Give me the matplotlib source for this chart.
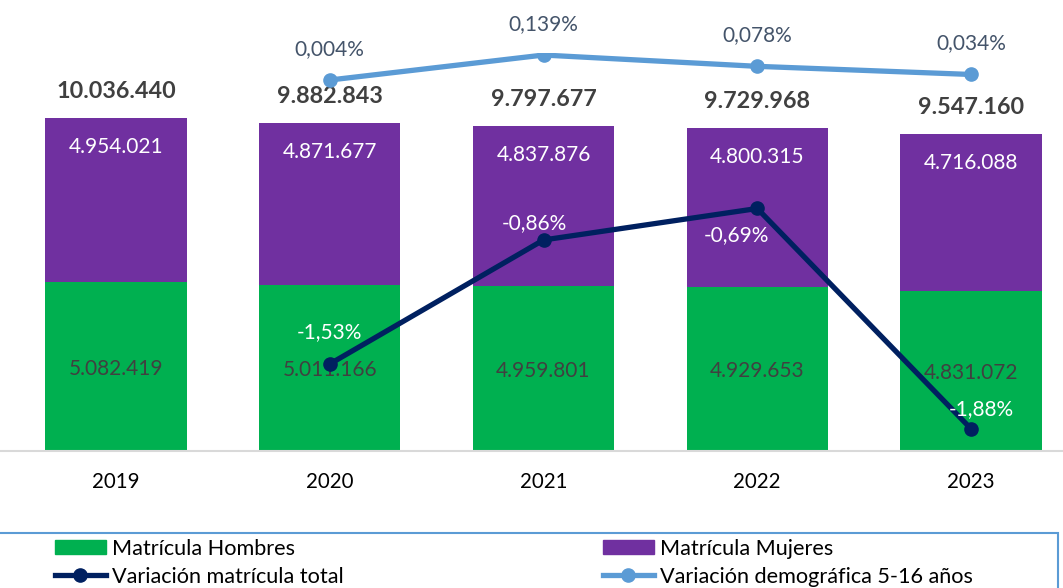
import matplotlib.pyplot as plt
from matplotlib.patches import Rectangle
from matplotlib.lines import Line2D
from matplotlib.patches import Patch

plt.rcParams['font.family'] = ['Lato', 'DejaVu Sans']

years = ['2019', '2020', '2021', '2022', '2023']
hombres = [5082419, 5011166, 4959801, 4929653, 4831072]
mujeres = [4954021, 4871677, 4837876, 4800315, 4716088]
var_total = [-1.53, -0.86, -0.69, -1.88]          # 2020-2023, %
var_demografica = [0.004, 0.139, 0.078, 0.034]    # 2020-2023, %

# label offsets in pixels (dx, dy) for the dark line labels
total_offsets = [(0, 32), (-9, 17), (-21, -27), (10, 20)]

GREEN = '#00B050'
PURPLE = '#7030A0'
NAVY = '#002060'
LIGHT = '#5B9BD5'
GRAY_TXT = '#404040'


def fmt_miles(v):
    return f'{v:,}'.replace(',', '.')


def fmt_pct(v, dec):
    return f'{v:.{dec}f}%'.replace('.', ',')


W, H = 1063, 588
fig = plt.figure(figsize=(W / 100, H / 100), dpi=100)
ax = fig.add_axes([0, 1 - 451 / H, 1, (451 - 53) / H])

x = list(range(len(years)))
totales = [h + m for h, m in zip(hombres, mujeres)]

ax.bar(x, hombres, width=0.66, color=GREEN, zorder=2)
ax.bar(x, mujeres, width=0.66, bottom=hombres, color=PURPLE, zorder=2)

ax.set_xlim(-116 / 213.75, (W - 116) / 213.75)
ax.set_ylim(0, 12.0e6)
ax.set_yticks([])
ax.set_xticks(x)
ax.set_xticklabels(years, fontsize=14.8)
ax.tick_params(axis='x', length=0, pad=15)
for s in ['top', 'left', 'right']:
    ax.spines[s].set_visible(False)
ax.spines['bottom'].set_color('#D9D9D9')
ax.spines['bottom'].set_linewidth(1.5)

for i in x:
    ax.annotate(fmt_miles(hombres[i]), (i, hombres[i] / 2), textcoords='offset pixels',
                xytext=(0, -2), ha='center', va='center', fontsize=15, color=GRAY_TXT, zorder=3)
    ax.annotate(fmt_miles(mujeres[i]), (i, totales[i]), textcoords='offset pixels',
                xytext=(0, -29), ha='center', va='center', fontsize=15, color='white', zorder=3)
    ax.annotate(fmt_miles(totales[i]), (i, totales[i]), textcoords='offset pixels',
                xytext=(0, 27), ha='center', va='center', fontsize=16.8, fontweight='bold',
                color=GRAY_TXT, zorder=3)

ax2 = ax.twinx()
ax2.set_ylim(-2.0, 0.15)
ax2.axis('off')
xl = x[1:]
ax2.plot(xl, var_total, color=NAVY, lw=3.8, marker='o', ms=9.5, zorder=4)
ax2.plot(xl, var_demografica, color=LIGHT, lw=3.8, marker='o', ms=9.5, zorder=4)

for xi, v, (dx, dy) in zip(xl, var_total, total_offsets):
    ax2.annotate(fmt_pct(v, 2), (xi, v), textcoords='offset pixels', xytext=(dx, dy),
                 ha='center', va='center', fontsize=15, color='white', zorder=5)
for xi, v in zip(xl, var_demografica):
    ax2.annotate(fmt_pct(v, 3), (xi, v), textcoords='offset pixels', xytext=(0, 31),
                 ha='center', va='center', fontsize=15, color='#44546A', zorder=5)

# legend box (bottom cut by the image edge)
fig.patches.append(Rectangle((-5 / W, -20 / H), 1063 / W, (20 + H - 533) / H,
                             transform=fig.transFigure, fill=False, edgecolor=LIGHT, lw=1.5))

h_hom = Patch(color=GREEN, label='Matrícula Hombres')
h_muj = Patch(color=PURPLE, label='Matrícula Mujeres')
h_tot = Line2D([], [], color=NAVY, lw=3.8, marker='o', ms=9.5, label='Variación matrícula total')
h_dem = Line2D([], [], color=LIGHT, lw=3.8, marker='o', ms=9.5, label='Variación demográfica 5-16 años')

leg_kw = dict(loc='upper left', frameon=False, borderpad=0, handlelength=2.35, handleheight=0.6,
              handletextpad=0.28, labelspacing=0.36, fontsize=15.6)
fig.legend(handles=[h_hom, h_tot], bbox_to_anchor=(44 / W, 1 - 528 / H), **leg_kw)
fig.legend(handles=[h_muj, h_dem], bbox_to_anchor=(592 / W, 1 - 528 / H), **leg_kw)

fig.savefig('out.png', dpi=100)
